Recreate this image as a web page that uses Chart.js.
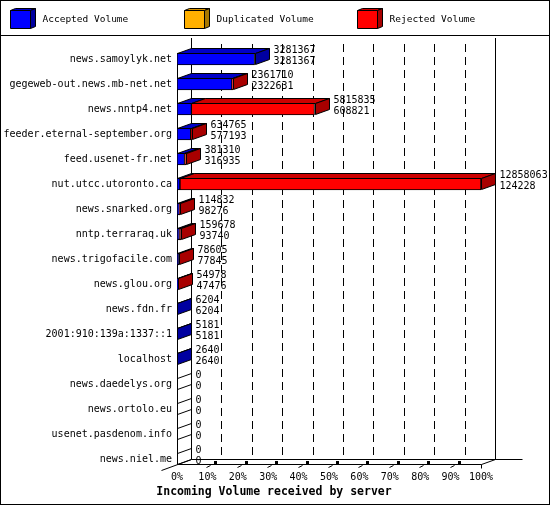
<!DOCTYPE html>
<html><head><meta charset="utf-8">
<script src="https://cdn.jsdelivr.net/npm/chart.js@4.4.1/dist/chart.umd.min.js"></script>
<style>html,body{margin:0;padding:0;background:#fff;}canvas{display:block;}</style>
</head><body>
<canvas id="c" width="550" height="505"></canvas>
<script>
const categories = ['news.samoylyk.net','gegeweb-out.news.mb-net.net','news.nntp4.net','feeder.eternal-september.org','feed.usenet-fr.net','nut.utcc.utoronto.ca','news.snarked.org','nntp.terraraq.uk','news.trigofacile.com','news.glou.org','news.fdn.fr','2001:910:139a:1337::1','localhost','news.daedelys.org','news.ortolo.eu','usenet.pasdenom.info','news.niel.me'];
const totalVolume     = [3281367, 2361710, 5815835, 634765, 381310, 12858063, 114832, 159678, 78605, 54978, 6204, 5181, 2640, 0, 0, 0, 0];
const acceptedVolume  = [3281367, 2322631, 608821, 577193, 316935, 124228, 98276, 93740, 77845, 47476, 6204, 5181, 2640, 0, 0, 0, 0];
const duplicatedVolume= [0, 0, 0, 0, 0, 0, 0, 0, 0, 0, 0, 0, 0, 0, 0, 0, 0];
const rejectedVolume  = [0, 39079, 5207014, 57572, 64375, 12733835, 16556, 65938, 760, 7502, 0, 0, 0, 0, 0, 0, 0];
const seriesNames = ['Accepted Volume','Duplicated Volume','Rejected Volume'];
const xTickValues = [0,10,20,30,40,50,60,70,80,90,100];
const axisTitle = 'Incoming Volume received by server';

const FONT = '"DejaVu Sans Mono", monospace';
const DX = 14, DY = 5;
const palette = [
  {front:'#0000ff', top:'#0000c8', side:'#0000a0'},
  {front:'#ffb000', top:'#d89400', side:'#a87800'},
  {front:'#ff0000', top:'#cc0000', side:'#a80000'}
];
const maxTotal = Math.max(...totalVolume);
const pct = arr => arr.map(v => v / maxTotal * 100);

function seg(ctx, x1, y1, x2, y2){ ctx.beginPath(); ctx.moveTo(x1,y1); ctx.lineTo(x2,y2); ctx.stroke(); }
function poly(ctx, pts, fill){
  ctx.beginPath(); ctx.moveTo(pts[0][0], pts[0][1]);
  for (let k=1;k<pts.length;k++) ctx.lineTo(pts[k][0], pts[k][1]);
  ctx.closePath();
  if (fill){ ctx.fillStyle = fill; ctx.fill(); }
  ctx.stroke();
}

const threeD = {
  id:'threeD',
  beforeDatasetsDraw(chart){
    const ctx = chart.ctx, a = chart.chartArea, xs = chart.scales.x;
    const lastMeta = chart.getDatasetMeta(0).data[categories.length-1];
    const floorFront = Math.round(lastMeta.y + lastMeta.height/2) - 0.5;
    const floorBack = floorFront - DY;
    const backTop = 38;
    ctx.save();
    ctx.strokeStyle = '#000'; ctx.lineWidth = 1;
    ctx.setLineDash([8,5]);
    for (let k=1;k<xTickValues.length-1;k++){
      const px = Math.round(xs.getPixelForValue(xTickValues[k])) + DX + 0.5;
      seg(ctx, px, backTop+6, px, floorBack);
    }
    ctx.setLineDash([]);
    const L = Math.round(a.left) + 0.5, R = Math.round(a.right) + 0.5;
    seg(ctx, L+DX, backTop, L+DX, floorBack);
    seg(ctx, R+DX, backTop, R+DX, floorBack);
    const firstMeta = chart.getDatasetMeta(0).data[0];
    seg(ctx, L, Math.round(firstMeta.y - firstMeta.height/2), L, floorFront);
    // floor
    seg(ctx, L+DX, floorBack, R+DX+27, floorBack);
    seg(ctx, L, floorFront, R, floorFront);
    seg(ctx, L-16, floorFront+6, L+DX, floorBack);
    seg(ctx, R, floorFront, R+DX, floorBack);
    seg(ctx, R, floorFront, R, floorFront+4);
    ctx.fillStyle = '#000';
    for (let k=1;k<xTickValues.length-1;k++){
      const px = Math.round(xs.getPixelForValue(xTickValues[k]));
      seg(ctx, px-0.5, floorFront+3, px+3.5, floorFront+1);
      ctx.fillRect(px+7, floorFront-3.5, 3, 3);
    }
    ctx.restore();
  },
  afterDatasetsDraw(chart){
    const ctx = chart.ctx, a = chart.chartArea;
    const L = Math.round(a.left) + 0.5;
    ctx.save();
    ctx.strokeStyle = '#000'; ctx.lineWidth = 1;
    const nD = chart.data.datasets.length;
    for (let i=0;i<categories.length;i++){
      let last = -1;
      for (let d=0; d<nD; d++) if (chart.data.datasets[d].data[i] > 0) last = d;
      const e0 = chart.getDatasetMeta(0).data[i];
      const top = Math.round(e0.y - e0.height/2) + 0.5;
      const bot = Math.round(e0.y + e0.height/2) - 0.5;
      let endX = L;
      if (last < 0){
        seg(ctx, L, top, L+DX, top-DY);
        seg(ctx, L, bot, L+DX, bot-DY);
      } else {
        for (let d=0; d<nD; d++){
          if (!(chart.data.datasets[d].data[i] > 0)) continue;
          const el = chart.getDatasetMeta(d).data[i];
          const x0 = Math.round(el.base) + 0.5;
          let x1 = Math.round(el.x) + 0.5;
          if (x1 < x0) x1 = x0;
          poly(ctx, [[x0,top],[x1,top],[x1+DX,top-DY],[x0+DX,top-DY]], palette[d].top);
          if (d === last){
            poly(ctx, [[x1,top],[x1+DX,top-DY],[x1+DX,bot-DY],[x1,bot]], palette[d].side);
            endX = x1;
          }
        }
      }
      ctx.fillStyle = '#000';
      ctx.font = '10px ' + FONT;
      ctx.textAlign = 'left'; ctx.textBaseline = 'middle';
      const cy = e0.y;
      ctx.fillText(String(totalVolume[i]), endX + DX + 4, cy - 9);
      ctx.fillText(String(acceptedVolume[i]), endX + DX + 4, cy + 2);
    }
    ctx.restore();
  },
  afterDraw(chart){
    const ctx = chart.ctx;
    ctx.save();
    ctx.strokeStyle = '#000'; ctx.lineWidth = 1;
    ctx.strokeRect(0.5, 0.5, 549, 504);
    seg(ctx, 0, 35.5, 550, 35.5);
    // legend
    for (let d=0; d<seriesNames.length; d++){
      const bx = Math.round(10 + d*173.7) + 0.5, by = 10.5, w = 20, h = 18;
      poly(ctx, [[bx,by],[bx+w,by],[bx+w+5,by-2],[bx+5,by-2]], palette[d].top);
      poly(ctx, [[bx+w,by],[bx+w+5,by-2],[bx+w+5,by+h-2],[bx+w,by+h]], palette[d].side);
      poly(ctx, [[bx,by],[bx+w,by],[bx+w,by+h],[bx,by+h]], palette[d].front);
      ctx.fillStyle = '#000';
      ctx.font = '9.5px ' + FONT;
      ctx.textAlign = 'left'; ctx.textBaseline = 'middle';
      ctx.fillText(seriesNames[d], bx + 32, 20);
    }
    ctx.font = 'bold 11.5px ' + FONT;
    ctx.textAlign = 'center'; ctx.textBaseline = 'middle';
    ctx.fillStyle = '#000';
    ctx.fillText(axisTitle, 274, 492);
    ctx.restore();
  }
};

const seriesData = [acceptedVolume, duplicatedVolume, rejectedVolume];
new Chart(document.getElementById('c'), {
  type: 'bar',
  data: {
    labels: categories,
    datasets: seriesData.map((arr, d) => ({
      label: seriesNames[d],
      data: pct(arr),
      backgroundColor: palette[d].front,
      borderColor: '#000',
      borderWidth: 1,
      borderSkipped: false,
      barThickness: 12
    }))
  },
  options: {
    indexAxis: 'y',
    responsive: false,
    animation: false,
    devicePixelRatio: 1,
    layout: { padding: { left: 0, right: 69, top: 46.5, bottom: 21.5 } },
    plugins: { legend: { display: false }, tooltip: { enabled: false }, title: { display: false } },
    scales: {
      x: {
        stacked: true, min: 0, max: 100,
        grid: { display: false, drawTicks: false },
        border: { display: false },
        afterBuildTicks: s => { s.ticks = xTickValues.map(v => ({ value: v })); },
        afterFit: s => { s.height = 12; },
        ticks: { autoSkip: false, maxRotation: 0, padding: 0, color: '#000', font: { family: FONT, size: 10 }, callback: v => v + '%' }
      },
      y: {
        stacked: true,
        grid: { display: false, drawTicks: false },
        border: { display: false },
        afterFit: s => { s.width = 177; },
        ticks: { autoSkip: false, padding: 5, color: '#000', font: { family: FONT, size: 10 } }
      }
    }
  },
  plugins: [threeD]
});
</script>
</body></html>
